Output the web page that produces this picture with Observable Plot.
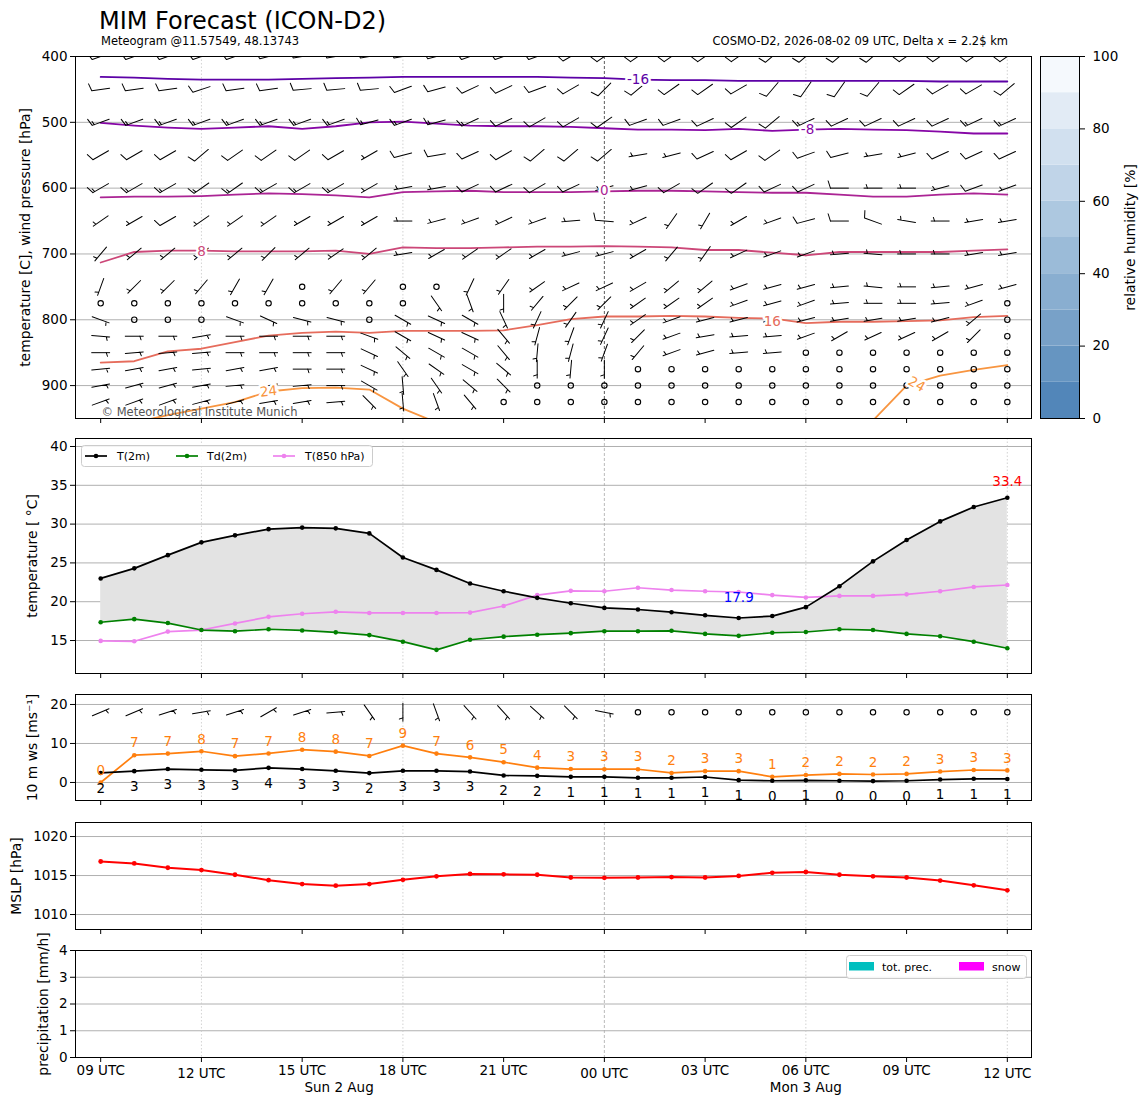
<!DOCTYPE html>
<html><head><meta charset="utf-8">
<script src="https://cdn.jsdelivr.net/npm/d3@7"></script>
<script src="https://cdn.jsdelivr.net/npm/@observablehq/plot@0.6"></script>
<style>
body{margin:0;background:#fff;}
#wrap{position:relative;width:1148px;height:1105px;font-family:"DejaVu Sans",sans-serif;overflow:hidden;}
</style></head><body><div id="wrap"></div>
<script>
// ---------------- data ----------------
const hourIdx = [0,1,2,3,4,5,6,7,8,9,10,11,12,13,14,15,16,17,18,19,20,21,22,23,24,25,26,27];
const tickHours = [0,3,6,9,12,15,18,21,24,27];
const tickLabels = ["09 UTC","12 UTC","15 UTC","18 UTC","21 UTC","00 UTC","03 UTC","06 UTC","09 UTC","12 UTC"];
const lowTickHours = [3,15,27];
const dateHours = [7.1, 21.0];
const dateLabels = ["Sun 2 Aug","Mon 3 Aug"];

const t2m  = [23.0,24.3,26.0,27.65,28.55,29.35,29.55,29.45,28.8,25.7,24.1,22.35,21.35,20.5,19.8,19.2,19.0,18.65,18.25,17.9,18.15,19.3,22.0,25.2,27.95,30.35,32.2,33.4];
const td2m = [17.35,17.75,17.25,16.35,16.2,16.45,16.3,16.05,15.7,14.85,13.8,15.1,15.5,15.75,15.95,16.2,16.2,16.25,15.85,15.6,16.0,16.1,16.45,16.35,15.85,15.55,14.85,14.0];
const t850 = [14.95,14.9,16.15,16.35,17.2,18.05,18.45,18.7,18.55,18.55,18.55,18.6,19.45,20.85,21.4,21.35,21.8,21.5,21.35,21.25,20.85,20.55,20.75,20.75,20.95,21.35,21.9,22.15];

const ws10   = [2.45,2.9,3.45,3.25,3.1,3.75,3.45,3.0,2.4,3.0,3.0,2.8,1.8,1.7,1.45,1.45,1.2,1.2,1.4,0.6,0.45,0.55,0.45,0.35,0.45,0.75,0.95,0.9];
const wsLab  = [2,3,3,3,3,4,3,3,2,3,3,3,2,2,1,1,1,1,1,1,0,1,0,0,0,1,1,1];
const gust10 = [0,7.0,7.4,8.0,6.75,7.45,8.4,7.9,6.8,9.45,7.4,6.45,5.2,3.8,3.45,3.4,3.4,2.45,2.9,2.9,1.45,1.9,2.2,2.05,2.2,2.8,3.2,3.1];
const gustLab= [0,7,7,8,7,7,8,8,7,9,7,6,5,4,3,3,3,2,3,3,1,2,2,2,2,3,3,3];
const dir10m = [67,67,72,80,72,60,72,85,145,180,160,138,138,132,135,101,null,null,null,null,null,null,null,null,null,null,null,null];
const n10m   = [1,1,1,1,1,1,1,1,1,1,1,1,1,1,1,1,0,0,0,0,0,0,0,0,0,0,0,0];

const mslp = [1016.8,1016.55,1016.0,1015.7,1015.1,1014.4,1013.9,1013.7,1013.9,1014.45,1014.9,1015.2,1015.15,1015.1,1014.75,1014.7,1014.75,1014.8,1014.75,1014.95,1015.35,1015.45,1015.1,1014.9,1014.75,1014.35,1013.75,1013.1];
const precipTot  = [0,0,0,0,0,0,0,0,0,0,0,0,0,0,0,0,0,0,0,0,0,0,0,0,0,0,0,0];
const precipSnow = [0,0,0,0,0,0,0,0,0,0,0,0,0,0,0,0,0,0,0,0,0,0,0,0,0,0,0,0];

// isotherms (pressure of the contour at each hour)
const isoM16 = [431,432,434,435,435,435,434,433,432,431,431,431,431,431,432,433,435,436,436,437,437,437,437,437,437,438,438,438];
const isoM8  = [501,505,508,510,508,506,510,506,500,499,502,505,506,506,507,509,511,511,512,510,513,511,510,511,512,514,517,517];
const iso0   = [614,613,613,612,610,608,609,611,614,606,605,604,606,606,606,605,604,604,605,606,607,607,610,613,613,610,608,610];
const iso8   = [713,697,695,695,696,696,696,695,700,690,691,691,690,689,689,688,689,690,694,694,698,702,697,697,697,697,695,693];
const iso16  = [865,863,848,844,834,824,820,818,820,817,817,817,816,808,799,795,795,794,795,797,798,805,803,803,802,801,796,794];
const iso24aHours = [1,2,3,4,5,6,7,8,9,10];
const iso24a      = [956,945,935,925,909,904,903,906,935,956];
const iso24bHours = [23,24,25,26,27];
const iso24b      = [953,900,885,876,869];
const isoLabelText  = ["-16","-8","0","8","16","24","24"];
const isoLabelHours = [16.0,21.05,15.0,3.0,20.0,5.0,24.3];
const isoLabelP     = [435,511,604,696,803,909,898];
const isoLabelRot   = [0,0,0,0,0,-6,30];

// wind barbs: direction (deg, from) and number of half-barbs (0 = calm)
const levels = [400,450,500,550,600,650,700,750,775,800,825,850,875,900,925];
const dir400 = [250,250,250,250,250,255,260,260,260,260,255,250,250,250,240,235,235,235,235,235,230,230,230,230,235,235,235,235];
const n400   = [2,2,2,2,2,2,2,2,2,2,2,2,2,2,2,2,2,2,2,2,2,2,2,2,2,2,2,2];
const dir450 = [262,262,262,252,262,262,265,265,265,250,255,245,245,250,240,225,230,235,235,240,220,215,215,220,235,240,240,230];
const n450   = [2,2,2,2,2,2,2,2,2,2,2,2,2,2,2,2,2,2,2,2,2,2,2,2,2,2,2,2];
const dir500 = [250,250,250,250,250,250,250,250,255,250,255,245,245,240,240,235,250,250,245,235,230,245,245,245,245,245,245,245];
const n500   = [3,3,3,3,3,3,3,3,3,3,3,3,2,2,2,2,2,2,2,2,2,3,2,2,2,2,3,3];
const dir550 = [240,240,240,230,235,235,235,240,240,255,260,245,240,230,230,230,260,255,245,240,235,250,255,260,255,245,245,245];
const n550   = [2,2,2,2,2,2,2,2,1,2,2,2,2,2,2,2,1,1,2,2,2,2,2,1,1,2,2,2];
const dir600 = [240,240,240,235,235,240,240,240,240,260,260,245,245,240,245,255,255,240,235,235,245,245,270,270,270,255,250,250];
const n600   = [3,3,3,3,3,3,3,3,1,1,1,2,2,2,2,1,1,2,2,2,2,2,2,1,1,1,2,1];
const dir650 = [235,240,240,235,235,235,240,240,240,270,255,250,245,250,265,275,245,215,210,240,250,255,270,290,280,270,260,260];
const n650   = [1,1,2,1,1,1,1,1,1,1,1,1,1,1,1,2,1,1,1,1,1,2,2,2,1,1,1,1];
const dir700 = [220,230,230,230,230,225,230,235,230,260,240,235,235,240,255,255,240,220,215,245,250,250,265,275,270,270,260,260];
const n700   = [1,1,1,1,1,1,1,1,1,1,1,1,1,1,1,1,1,1,1,1,1,1,1,1,1,1,1,1];
const dir750 = [200,225,225,220,210,210,null,220,220,null,null,205,215,235,245,245,240,230,230,250,255,255,265,275,270,265,255,255];
const n750   = [1,1,1,1,1,1,0,1,1,0,0,1,1,1,1,1,1,1,1,1,1,1,1,1,1,1,1,1];
const dir775 = [null,null,null,null,null,null,null,null,null,null,145,160,180,220,225,225,235,235,235,250,255,250,265,270,270,265,250,null];
const n775   = [0,0,0,0,0,0,0,0,0,0,1,1,1,1,1,1,1,1,1,1,1,1,1,1,1,1,1,0];
const dir800 = [110,null,null,null,110,115,105,105,null,120,115,120,155,205,215,205,235,250,255,255,255,255,260,260,260,255,230,null];
const n800   = [1,0,0,0,1,1,1,1,0,1,1,1,1,1,1,1,1,1,1,1,1,1,1,1,1,1,1,0];
const dir825 = [95,90,90,80,90,90,90,90,110,120,115,115,140,195,200,205,225,250,260,265,265,250,240,245,245,240,225,null];
const n825   = [1,1,1,1,1,1,1,1,1,1,1,1,1,1,1,1,1,1,1,1,1,1,1,1,1,1,1,0];
const dir850 = [90,85,85,85,90,90,90,90,115,130,120,120,140,185,195,200,220,250,255,265,265,null,null,null,null,null,null,null];
const n850   = [1,1,1,1,1,1,1,1,1,1,1,1,1,1,1,1,1,1,1,1,1,0,0,0,0,0,0,0];
const dir875 = [85,80,80,85,80,80,90,90,115,145,125,120,130,180,185,180,null,null,null,null,null,null,null,null,null,null,null,null];
const n875   = [1,1,1,1,1,1,1,1,1,1,1,1,1,1,1,1,0,0,0,0,0,0,0,0,0,0,0,0];
const dir900 = [80,75,75,80,85,80,85,90,120,175,145,130,135,null,null,null,null,null,null,null,null,null,null,null,null,null,null,null];
const n900   = [1,1,1,1,1,1,1,1,1,1,1,1,1,0,0,0,0,0,0,0,0,0,0,0,0,0,0,0];
const dir925 = [70,70,70,75,75,80,80,85,135,175,160,140,null,null,null,null,null,null,null,null,null,null,null,null,null,null,null,null];
const n925   = [1,1,1,1,1,1,1,1,1,1,1,1,0,0,0,0,0,0,0,0,0,0,0,0,0,0,0,0];

const rhLevels = [0,10,20,30,40,50,60,70,80,90,100];
const rhColors = ["#5286b9","#6695c1","#78a1c8","#89aed0","#9bbbd8","#adc8e0","#c0d4e8","#d1e0ef","#e2ebf5","#f5f9fd"];

// ---------------- helpers ----------------
const wrap = document.getElementById("wrap");
const W = 1148, X0 = 75, X1 = 1031;
const xDomain = [-0.75, 27.72];
const FONT = "DejaVu Sans, sans-serif";
const intFmt = d => String(d);

const dirRows = [dir400,dir450,dir500,dir550,dir600,dir650,dir700,dir750,dir775,dir800,dir825,dir850,dir875,dir900,dir925];
const nRows   = [n400,n450,n500,n550,n600,n650,n700,n750,n775,n800,n825,n850,n875,n900,n925];
const barbs = [];
levels.forEach((p, r) => hourIdx.forEach(i => barbs.push({t: i, p, dir: dirRows[r][i], n: nRows[r][i]})));
const barbs10 = hourIdx.map(i => ({t: i, v: 18, dir: dir10m[i], n: n10m[i]}));

const rows = hourIdx.map(i => ({
  t: i, t2m: t2m[i], td2m: td2m[i], t850: t850[i],
  ws: ws10[i], wsLab: wsLab[i], gust: gust10[i], gustLab: gustLab[i],
  mslp: mslp[i], prec: precipTot[i], snow: precipSnow[i]
}));

function barbShape(n) {
  return {
    draw(ctx, l) {
      const H = 0.4 * l, Wd = 0.25 * l, S = 0.125 * l;
      ctx.moveTo(0, 0); ctx.lineTo(0, -l);
      let off = l;
      const full = Math.floor(n / 2);
      for (let k = 0; k < full; k++) { ctx.moveTo(0, -off); ctx.lineTo(H, -(off + Wd / 2)); off -= S; }
      if (n % 2) {
        if (full === 0) off -= 1.5 * S;
        ctx.moveTo(0, -off); ctx.lineTo(H / 2, -(off + Wd / 4));
      }
    }
  };
}
function barbMarks(data, yKey) {
  const out = [];
  for (const n of [1,2,3,4,5,6]) {
    const d = data.filter(b => b.n === n);
    if (d.length) out.push(Plot.vector(d, {x: "t", y: yKey, rotate: "dir", length: 18, anchor: "middle",
      shape: barbShape(n), stroke: "black", strokeWidth: 1, clip: true}));
  }
  out.push(Plot.dot(data.filter(b => b.n === 0), {x: "t", y: yKey, r: 2.7, stroke: "black", fill: "none", strokeWidth: 1.1, clip: true}));
  return out;
}
function vgrid(dark) {
  return [
    Plot.ruleX([3, 9, 21, 27], {stroke: "#c8c8c8", strokeWidth: 0.8, strokeDasharray: "1.5,2"}),
    Plot.ruleX([15], {stroke: dark ? "#333" : "#aaa", strokeWidth: 0.8, strokeDasharray: "3,2"})
  ];
}
function ylabel(text, dx) {
  return Plot.text([text], {frameAnchor: "left", dx, rotate: -90, textAnchor: "middle", lineAnchor: "middle", fontSize: 13.9});
}
function xTicksNoLabel() {
  return Plot.axisX({ticks: tickHours, tickFormat: () => "", tickSize: 5, label: null});
}
function panel({top, mt, h, mb, yDomain, reverse, marks, left = 0, width = W, ml = X0, mr = W - X1, xDom = xDomain, xAxisNull = false, extra = {}}) {
  const svg = Plot.plot({
    width, height: mt + h + mb,
    marginLeft: ml, marginRight: mr, marginTop: mt, marginBottom: mb,
    x: xAxisNull ? {domain: xDom, axis: null} : {domain: xDom},
    y: {domain: yDomain, reverse: !!reverse},
    ...extra,
    style: {fontFamily: FONT, fontSize: "13.5px", background: "transparent", overflow: "visible", color: "black"},
    marks
  });
  svg.style.position = "absolute";
  svg.style.left = left + "px";
  svg.style.top = (top - mt) + "px";
  svg.style.maxWidth = "none";
  wrap.appendChild(svg);
}
const isoColors = {m16: "#5c01a6", m8: "#8606a6", z: "#ab2494", p8: "#cc4778", p16: "#e66c5c", p24: "#f89540"};
const isoLabelColors = [isoColors.m16, isoColors.m8, isoColors.z, isoColors.p8, isoColors.p16, isoColors.p24, isoColors.p24];

// ---------------- panel 1: wind barbs + isotherms ----------------
const isoLine = (arr, color) => Plot.line(hourIdx, {x: i => i, y: i => arr[i], stroke: color, strokeWidth: 1.8, clip: true});
panel({
  top: 56, mt: 10, h: 362, mb: 12, yDomain: [400, 950], reverse: true,
  marks: [
    Plot.ruleY([500, 600, 700, 800, 900], {stroke: "#b0b0b0", strokeWidth: 1}),
    ...vgrid(true),
    isoLine(isoM16, isoColors.m16),
    isoLine(isoM8, isoColors.m8),
    isoLine(iso0, isoColors.z),
    isoLine(iso8, isoColors.p8),
    isoLine(iso16, isoColors.p16),
    Plot.line(iso24aHours, {x: h => h, y: (h, k) => iso24a[k], stroke: isoColors.p24, strokeWidth: 1.8, clip: true}),
    Plot.line(iso24bHours, {x: h => h, y: (h, k) => iso24b[k], stroke: isoColors.p24, strokeWidth: 1.8, clip: true}),
    ...barbMarks(barbs, "p"),
    Plot.text(isoLabelText, {x: (d, k) => isoLabelHours[k], y: (d, k) => isoLabelP[k], text: d => d,
      rotate: (d, k) => isoLabelRot[k], fill: (d, k) => isoLabelColors[k], stroke: "white", strokeWidth: 5,
      paintOrder: "stroke", fontSize: 13.5}),
    Plot.text(["© Meteorological Institute Munich"], {frameAnchor: "bottom-left", dx: 26, dy: -3, textAnchor: "start",
      lineAnchor: "bottom", fill: "#555", fontSize: 11.5}),
    Plot.frame({stroke: "black"}),
    Plot.axisY({ticks: [400, 500, 600, 700, 800, 900], tickFormat: intFmt, tickSize: 5, tickPadding: 3, label: null}),
    xTicksNoLabel(),
    ylabel("temperature [C], wind pressure [hPa]", -50)
  ]
});

// colorbar
panel({
  top: 56, mt: 10, h: 362, mb: 12, yDomain: [0, 100], left: 1038, width: 120, ml: 2, mr: 79, xDom: [0, 1], xAxisNull: true,
  extra: {color: {type: "identity"}},
  marks: [
    Plot.rect(rhColors, {x1: 0, x2: 1, y1: (c, k) => rhLevels[k], y2: (c, k) => rhLevels[k + 1], fill: c => c}),
    Plot.frame({stroke: "black"}),
    Plot.axisY({anchor: "right", ticks: [0, 20, 40, 60, 80, 100], tickFormat: intFmt, tickSize: 5, tickPadding: 8, label: null}),
    Plot.text(["relative humidity [%]"], {frameAnchor: "right", dx: 51, rotate: -90, textAnchor: "middle", lineAnchor: "middle", fontSize: 13.9})
  ]
});

// ---------------- panel 2: temperature ----------------
panel({
  top: 438, mt: 4, h: 235, mb: 12, yDomain: [10.75, 41.03],
  marks: [
    Plot.ruleY([15, 20, 25, 30, 35, 40], {stroke: "#b0b0b0", strokeWidth: 1}),
    ...vgrid(false),
    Plot.areaY(rows, {x: "t", y1: "td2m", y2: "t2m", fill: "#e3e3e3"}),
    Plot.line(rows, {x: "t", y: "t850", stroke: "violet", strokeWidth: 1.7}),
    Plot.dot(rows, {x: "t", y: "t850", r: 2.3, fill: "violet"}),
    Plot.line(rows, {x: "t", y: "td2m", stroke: "green", strokeWidth: 1.7}),
    Plot.dot(rows, {x: "t", y: "td2m", r: 2.3, fill: "green"}),
    Plot.line(rows, {x: "t", y: "t2m", stroke: "black", strokeWidth: 1.7}),
    Plot.dot(rows, {x: "t", y: "t2m", r: 2.3, fill: "black"}),
    Plot.text([rows[27]], {x: "t", y: d => d.t2m + 2.1, text: d => d.t2m.toFixed(1), fill: "red", fontSize: 13.5}),
    Plot.text([rows[19]], {x: "t", y: d => d.t2m + 2.6, text: d => d.t2m.toFixed(1), fill: "blue", fontSize: 13.5}),
    Plot.frame({stroke: "black"}),
    Plot.axisY({ticks: [15, 20, 25, 30, 35, 40], tickFormat: intFmt, tickSize: 5, tickPadding: 3, label: null}),
    xTicksNoLabel(),
    ylabel("temperature [ °C]", -43)
  ]
});

// ---------------- panel 3: 10 m wind ----------------
panel({
  top: 694, mt: 4, h: 106, mb: 12, yDomain: [-4.62, 22.56],
  marks: [
    Plot.ruleY([0, 10, 20], {stroke: "#b0b0b0", strokeWidth: 1}),
    ...vgrid(false),
    Plot.line(rows, {x: "t", y: "gust", stroke: "#ff7f0e", strokeWidth: 1.7}),
    Plot.dot(rows, {x: "t", y: "gust", r: 2.3, fill: "#ff7f0e"}),
    Plot.line(rows, {x: "t", y: "ws", stroke: "black", strokeWidth: 1.7}),
    Plot.dot(rows, {x: "t", y: "ws", r: 2.3, fill: "black"}),
    Plot.text(rows, {x: "t", y: d => d.gust + 3.1, text: "gustLab", fill: "#ff7f0e", fontSize: 13.5}),
    Plot.text(rows, {x: "t", y: d => d.ws - 4.0, text: "wsLab", fill: "black", fontSize: 13.5}),
    ...barbMarks(barbs10, "v"),
    Plot.frame({stroke: "black"}),
    Plot.axisY({ticks: [0, 10, 20], tickFormat: intFmt, tickSize: 5, tickPadding: 3, label: null}),
    xTicksNoLabel(),
    ylabel("10 m ws [ms⁻¹]", -43)
  ]
});

// ---------------- panel 4: MSLP ----------------
panel({
  top: 822, mt: 4, h: 107, mb: 12, yDomain: [1008.08, 1021.8],
  marks: [
    Plot.ruleY([1010, 1015, 1020], {stroke: "#b0b0b0", strokeWidth: 1}),
    ...vgrid(false),
    Plot.line(rows, {x: "t", y: "mslp", stroke: "red", strokeWidth: 2}),
    Plot.dot(rows, {x: "t", y: "mslp", r: 2.4, fill: "red"}),
    Plot.frame({stroke: "black"}),
    Plot.axisY({ticks: [1010, 1015, 1020], tickFormat: intFmt, tickSize: 5, tickPadding: 3, label: null}),
    xTicksNoLabel(),
    ylabel("MSLP [hPa]", -59)
  ]
});

// ---------------- panel 5: precipitation ----------------
const fmtTick = d => tickLabels[tickHours.indexOf(d)];
panel({
  top: 950, mt: 4, h: 107, mb: 48, yDomain: [0, 4],
  marks: [
    Plot.ruleY([1, 2, 3], {stroke: "#b0b0b0", strokeWidth: 1}),
    ...vgrid(false),
    Plot.rect(rows, {x1: d => d.t - 0.4, x2: d => d.t + 0.4, y1: 0, y2: "prec", fill: "#00bfbf"}),
    Plot.rect(rows, {x1: d => d.t - 0.4, x2: d => d.t + 0.4, y1: 0, y2: "snow", fill: "#ff00ff"}),
    Plot.frame({stroke: "black"}),
    Plot.axisY({ticks: [0, 1, 2, 3, 4], tickFormat: intFmt, tickSize: 5, tickPadding: 3, label: null}),
    Plot.axisX({ticks: tickHours.filter(h => !lowTickHours.includes(h)), tickFormat: fmtTick, tickSize: 5, tickPadding: 3, label: null}),
    Plot.axisX({ticks: lowTickHours, tickFormat: fmtTick, tickSize: 5, tickPadding: 6, label: null}),
    Plot.text(dateLabels, {x: (d, k) => dateHours[k], text: d => d, frameAnchor: "bottom", dy: 30, lineAnchor: "middle", fontSize: 13.5}),
    ylabel("precipitation [mm/h]", -32)
  ]
});

// ---------------- overlay: titles & legends ----------------
const ov = d3.create("svg").attr("width", W).attr("height", 1105)
  .style("position", "absolute").style("left", "0px").style("top", "0px").style("pointer-events", "none")
  .attr("font-family", FONT);
ov.append("text").attr("x", 99).attr("y", 29).attr("font-size", 24).text("MIM Forecast (ICON-D2)");
ov.append("text").attr("x", 101).attr("y", 45).attr("font-size", 11.5).text("Meteogram @11.57549, 48.13743");
ov.append("text").attr("x", 1008).attr("y", 45).attr("font-size", 11.5).attr("text-anchor", "end")
  .text("COSMO-D2, 2026-08-02 09 UTC, Delta x = 2.2$ km");

// temperature legend
const lg = ov.append("g");
lg.append("rect").attr("x", 81.5).attr("y", 445.5).attr("width", 291).attr("height", 21).attr("rx", 3)
  .attr("fill", "white").attr("fill-opacity", 0.85).attr("stroke", "#cccccc");
[["T(2m)", "black", 85, 117], ["Td(2m)", "green", 176, 207], ["T(850 hPa)", "violet", 273, 305]].forEach(([t, c, x, tx]) => {
  lg.append("line").attr("x1", x).attr("x2", x + 22).attr("y1", 456).attr("y2", 456).attr("stroke", c).attr("stroke-width", 1.7);
  lg.append("circle").attr("cx", x + 11).attr("cy", 456).attr("r", 2.3).attr("fill", c);
  lg.append("text").attr("x", tx).attr("y", 460).attr("font-size", 11).text(t);
});
// precipitation legend
const pg = ov.append("g");
pg.append("rect").attr("x", 846.5).attr("y", 955.5).attr("width", 180).attr("height", 23).attr("rx", 3)
  .attr("fill", "white").attr("fill-opacity", 0.85).attr("stroke", "#cccccc");
pg.append("rect").attr("x", 849).attr("y", 962).attr("width", 25).attr("height", 8.5).attr("fill", "#00bfbf");
pg.append("text").attr("x", 882).attr("y", 971).attr("font-size", 11).text("tot. prec.");
pg.append("rect").attr("x", 959).attr("y", 962).attr("width", 25).attr("height", 8.5).attr("fill", "#ff00ff");
pg.append("text").attr("x", 992).attr("y", 971).attr("font-size", 11).text("snow");
wrap.appendChild(ov.node());
</script></body></html>
